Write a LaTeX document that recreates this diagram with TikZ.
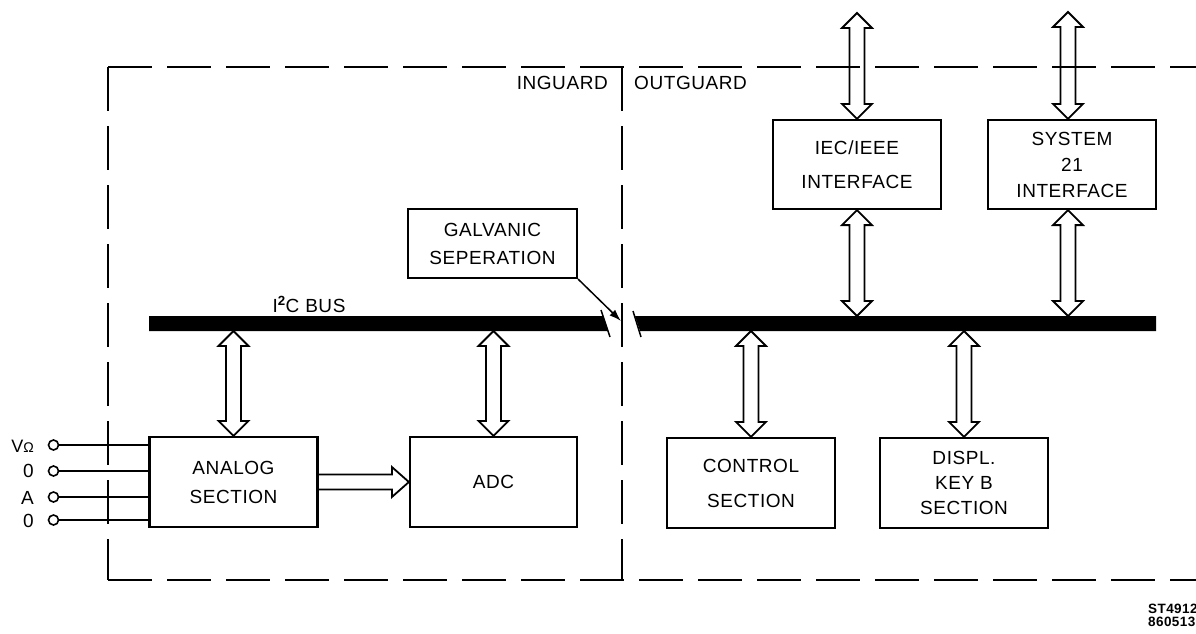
\documentclass[tikz,border=0pt]{standalone}
\usepackage{fontspec}
\setmainfont[LetterSpace=3]{Liberation Sans}
\usetikzlibrary{calc,arrows.meta}

\newcommand\vdbl[2]{%
  \draw[hollow] let \p1=#1, \p2=#2 in
    (\x1,\y1) -- ({\x1+15pt},{\y1-15pt}) -- ({\x1+7.5pt},{\y1-15pt})
    -- ({\x1+7.5pt},{\y2+15pt}) -- ({\x1+15pt},{\y2+15pt}) -- (\x1,\y2)
    -- ({\x1-15pt},{\y2+15pt}) -- ({\x1-7.5pt},{\y2+15pt})
    -- ({\x1-7.5pt},{\y1-15pt}) -- ({\x1-15pt},{\y1-15pt}) -- cycle;}

\begin{document}
\begin{tikzpicture}[x=1pt,y=-1pt,
  frame/.style={line width=2.2pt, dash pattern=on 44pt off 15pt},
  box/.style={draw, line width=2.2pt, rectangle, inner sep=0pt, align=center,
    minimum width=168pt, font=\fontsize{19}{29}\selectfont},
  hollow/.style={draw, line width=1.8pt, line join=miter},
  lbl/.style={font=\fontsize{19}{23}\selectfont, inner sep=0pt},
  term/.style={circle, draw, line width=1.6pt, minimum size=10pt, inner sep=0pt},
  wire/.style={line width=1.6pt}]
\useasboundingbox (0,0) rectangle (1196,633);

% guard frame
\draw[frame] (108,67) -- (1196,67);
\draw[frame] (108,67) -- (108,580);
\draw[frame] (108,580) -- (1196,580);
\draw[frame] (622,67) -- (622,580);

\node[lbl, anchor=base east] (ing) at (608,89) {INGUARD};
\node[lbl, anchor=base west] (outg) at (634,89) {OUTGUARD};

% boxes
\node[box, minimum height=90pt] (analog) at (233.5,482) {ANALOG\\SECTION};
\node[box, minimum height=90pt, minimum width=167pt] (adc) at (493.5,482) {ADC};
\node[box, minimum height=90pt, font=\fontsize{19}{35}\selectfont] (ctrl) at (751,483) {CONTROL\\SECTION};
\node[box, minimum height=90pt, font=\fontsize{19}{25}\selectfont] (displ) at (964,483) {DISPL.\\KEY B\\SECTION};
\node[box, minimum height=89pt, font=\fontsize{19}{34}\selectfont] (iec) at (857,164.5) {IEC/IEEE\\INTERFACE};
\node[box, minimum height=89pt, font=\fontsize{19}{26}\selectfont] (sys) at (1072,164.5) {SYSTEM\\21\\INTERFACE};
\node[box, minimum height=69pt, minimum width=169pt, font=\fontsize{19}{28}\selectfont] (galv) at (492.5,243.5) {GALVANIC\\SEPERATION};

% I2C bus
\coordinate (busT) at (0,316);
\coordinate (busB) at (0,331);
\fill (149,316) -- (603,316) -- (608,331) -- (149,331) -- cycle;
\draw[line width=1.5pt] (601,310) -- (610,337);
\fill (635,316) -- (1156,316) -- (1156,331) -- (640,331) -- cycle;
\draw[line width=1.5pt] (633,311) -- (641,337);
\node[lbl, anchor=base] (i2c) at (309,312) {I\textsuperscript{\bfseries 2}C BUS};

% galvanic separation leader
\coordinate (gsep) at (621,321);
\draw[line width=1.5pt, -{Latex[length=12pt,width=8pt]}] (galv.south east) -- (gsep);

% bus connections
\vdbl{(analog.north |- busB)}{(analog.north)}
\vdbl{(adc.north |- busB)}{(adc.north)}
\vdbl{(ctrl.north |- busB)}{(ctrl.north)}
\vdbl{(displ.north |- busB)}{(displ.north)}
\vdbl{(iec.south)}{(iec.south |- busT)}
\coordinate (sysS) at ($(sys.south)+(-4,0)$);
\coordinate (sysN) at ($(sys.north)+(-4,0)$);
\vdbl{(sysS)}{(sysS |- busT)}
\coordinate (iecTop) at (857,13);
\coordinate (sysTop) at (1068,12);
\vdbl{(iecTop)}{(iec.north)}
\vdbl{(sysTop)}{(sysN)}

% analog -> ADC
\draw[hollow] let \p1=(analog.east), \p2=(adc.west) in
  (\x1,{\y1+7.5pt}) -- ({\x2-17pt},{\y1+7.5pt}) -- ({\x2-17pt},{\y1+15pt})
  -- (\x2,\y1) -- ({\x2-17pt},{\y1-15pt}) -- ({\x2-17pt},{\y1-7.5pt}) -- (\x1,{\y1-7.5pt});

% input terminals
\node[lbl, anchor=base east, font=\fontsize{18}{18}\selectfont] (l1) at (34,452) {V{\fontsize{14}{14}\selectfont Ω}};
\node[lbl, anchor=base east] (l2) at (34,477) {0};
\node[lbl, anchor=base east] (l3) at (34,504) {A};
\node[lbl, anchor=base east] (l4) at (34,527) {0};
\node[term] (t1) at (53.5,445) {};
\node[term] (t2) at (53.5,471) {};
\node[term] (t3) at (53.5,497) {};
\node[term] (t4) at (53.5,520) {};
\foreach \t in {t1,t2,t3,t4} \draw[wire] (\t.east) -- (\t.east -| analog.west);

% drawing code
\node[inner sep=0pt, anchor=north west, align=left, font=\fontsize{13.5}{13}\selectfont\bfseries] (code) at (1148,604) {ST4912\\860513};
\end{tikzpicture}
\end{document}
